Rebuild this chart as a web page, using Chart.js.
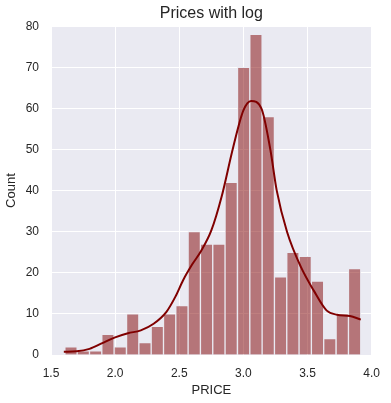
<!DOCTYPE html>
<html>
<head>
<meta charset="utf-8">
<script src="https://cdn.jsdelivr.net/npm/chart.js@4/dist/chart.umd.min.js"></script>
<style>
  html, body { margin: 0; padding: 0; background: #fff; }
  #wrap { width: 391px; height: 403px; }
</style>
</head>
<body>
<div id="wrap"><canvas id="c" width="391" height="403"></canvas></div>
<script>
// histogram bins (centres) and counts
const binCenters = [1.656, 1.752, 1.848, 1.944, 2.040, 2.137, 2.233, 2.329, 2.425, 2.521, 2.617, 2.713,
                    2.809, 2.905, 3.002, 3.098, 3.194, 3.290, 3.386, 3.482, 3.578, 3.674, 3.771, 3.867];
const counts = [2, 1, 1, 5, 2, 10, 3, 7, 10, 12, 30, 27, 27, 42, 70, 78, 58, 19, 25, 24, 18, 4, 10, 21];

// kde curve
const kdeX = [1.60, 1.70, 1.80, 1.90, 2.00, 2.10, 2.20, 2.30, 2.40, 2.47, 2.53, 2.60, 2.67, 2.75, 2.83,
              2.92, 3.00, 3.06, 3.14, 3.21, 3.26, 3.34, 3.45, 3.55, 3.65, 3.73, 3.83, 3.915];
const kdeY = [0.8, 0.9, 1.5, 2.9, 4.3, 5.3, 6.0, 7.6, 10.5, 14.2, 18.2, 22.0, 25.3, 30.3, 38.5,
              50.5, 59.5, 61.8, 60, 50, 40, 30, 21.3, 15.6, 10.8, 9.8, 9.5, 8.6];

const xTicks = [1.5, 2.0, 2.5, 3.0, 3.5, 4.0];

const plotBg = {
  id: 'plotBg',
  beforeDraw(chart) {
    const { ctx, chartArea: a } = chart;
    ctx.save();
    ctx.fillStyle = '#EAEAF2';
    ctx.fillRect(a.left, a.top, a.right - a.left, a.bottom - a.top);
    ctx.restore();
  }
};

const font = 'Liberation Sans, Arial, sans-serif';

new Chart(document.getElementById('c'), {
  data: {
    datasets: [
      {
        type: 'line',
        data: kdeX.map((x, i) => ({ x, y: kdeY[i] })),
        borderColor: '#800000',
        borderWidth: 2,
        pointRadius: 0,
        cubicInterpolationMode: 'monotone',
        order: 0
      },
      {
        type: 'bar',
        data: binCenters.map((x, i) => ({ x, y: counts[i] })),
        backgroundColor: 'rgba(128,0,0,0.5)',
        borderColor: 'rgba(234,234,242,0.9)',
        borderWidth: 1,
        barPercentage: 1,
        categoryPercentage: 1,
        order: 1
      }
    ]
  },
  options: {
    responsive: false,
    animation: false,
    layout: { padding: { left: 0, right: 16, top: 0, bottom: 0 } },
    plugins: {
      legend: { display: false },
      tooltip: { enabled: false },
      title: {
        display: true,
        text: 'Prices with log',
        fullSize: false,
        color: '#262626',
        font: { family: font, size: 16, weight: 'normal' },
        padding: { top: 4, bottom: 3 }
      }
    },
    scales: {
      x: {
        type: 'linear',
        min: 1.5,
        max: 4.0,
        offset: false,
        afterBuildTicks(scale) { scale.ticks = xTicks.map(v => ({ value: v })); },
        afterFit(scale) { scale.height = 48; },
        ticks: {
          color: '#262626',
          font: { family: font, size: 12 },
          padding: 11,
          callback: v => v.toFixed(1)
        },
        grid: { color: '#ffffff', lineWidth: 1, drawTicks: false, offset: false },
        border: { display: false },
        title: {
          display: true,
          text: 'PRICE',
          color: '#262626',
          font: { family: font, size: 13 },
          padding: { top: 3, bottom: 5 }
        }
      },
      y: {
        min: 0,
        max: 80,
        afterFit(scale) { scale.width = 51; },
        ticks: {
          stepSize: 10,
          color: '#262626',
          font: { family: font, size: 12 },
          padding: 12
        },
        grid: { color: '#ffffff', lineWidth: 1, drawTicks: false },
        border: { display: false },
        title: {
          display: true,
          text: 'Count',
          color: '#262626',
          font: { family: font, size: 13 },
          padding: { top: 4, bottom: 0 }
        }
      }
    }
  },
  plugins: [plotBg]
});
</script>
</body>
</html>
